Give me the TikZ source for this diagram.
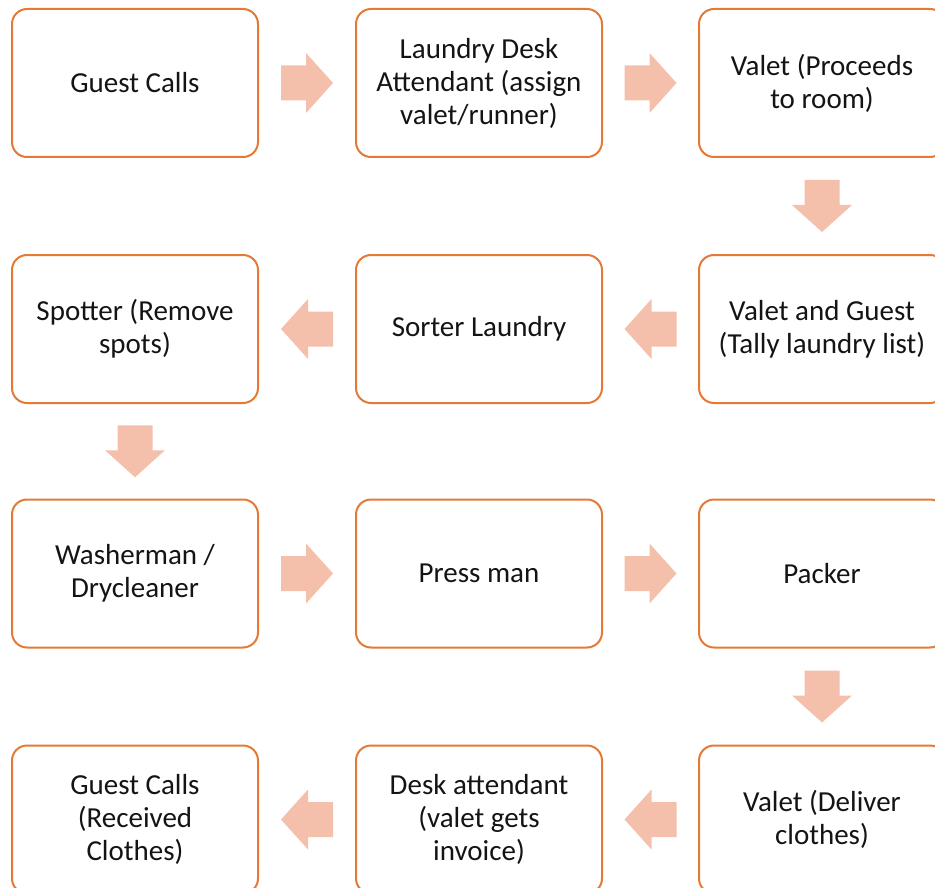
\documentclass[tikz,border=0pt]{standalone}
\usepackage{fontspec}
\setmainfont{Carlito}
\usetikzlibrary{calc}
\definecolor{boxline}{HTML}{E47A36}
\definecolor{arrowfill}{HTML}{F4BFAB}
\tikzset{
  stepbox/.style={draw=boxline, line width=2pt, rounded corners=15pt, fill=white,
    minimum width=246pt, minimum height=148pt, inner sep=0pt, align=center,
    font=\fontsize{29}{33}\selectfont, text=black!92},
  pics/blockarrow/.style={code={
    \fill[arrowfill] (-26pt,-17.5pt) -- (-1pt,-17.5pt) -- (-1pt,-30pt) -- (26pt,0pt)
      -- (-1pt,30pt) -- (-1pt,17.5pt) -- (-26pt,17.5pt) -- cycle;}}
}
\begin{document}
\begin{tikzpicture}[x=1pt,y=-1pt]
\useasboundingbox (0,0) rectangle (935,888);
\clip (0,0) rectangle (935,888);
% row 1
\node[stepbox] (gc)  at (135,83)  {Guest Calls};
\node[stepbox] (lda) at (479,83)  {Laundry Desk\\Attendant (assign\\valet/runner)};
\node[stepbox] (vp)  at (822,83)  {Valet (Proceeds\\to room)};
% row 2
\node[stepbox] (sp)  at (135,329) {Spotter (Remove\\spots)};
\node[stepbox] (sl)  at (479,329) {Sorter Laundry};
\node[stepbox] (vg)  at (822,329) {Valet and Guest\\(Tally laundry list)};
% row 3
\node[stepbox] (wd)  at (135,573.5) {Washerman /\\Drycleaner};
\node[stepbox] (pm)  at (479,573.5) {Press man};
\node[stepbox] (pk)  at (822,573.5) {Packer};
% row 4
\node[stepbox] (gr)  at (135,819.5) {Guest Calls\\(Received\\Clothes)};
\node[stepbox] (da)  at (479,819.5) {Desk attendant\\(valet gets\\invoice)};
\node[stepbox] (vd)  at (822,819.5) {Valet (Deliver\\clothes)};
% block arrows between consecutive steps
\pic at ($(gc.east)!0.5!(lda.west)$) {blockarrow};
\pic at ($(lda.east)!0.5!(vp.west)$) {blockarrow};
\pic[rotate=-90] at ($(vp.south)!0.5!(vg.north)$) {blockarrow};
\pic[rotate=180] at ($(vg.west)!0.5!(sl.east)$) {blockarrow};
\pic[rotate=180] at ($(sl.west)!0.5!(sp.east)$) {blockarrow};
\pic[rotate=-90] at ($(sp.south)!0.5!(wd.north)$) {blockarrow};
\pic at ($(wd.east)!0.5!(pm.west)$) {blockarrow};
\pic at ($(pm.east)!0.5!(pk.west)$) {blockarrow};
\pic[rotate=-90] at ($(pk.south)!0.5!(vd.north)$) {blockarrow};
\pic[rotate=180] at ($(vd.west)!0.5!(da.east)$) {blockarrow};
\pic[rotate=180] at ($(da.west)!0.5!(gr.east)$) {blockarrow};
\end{tikzpicture}
\end{document}
